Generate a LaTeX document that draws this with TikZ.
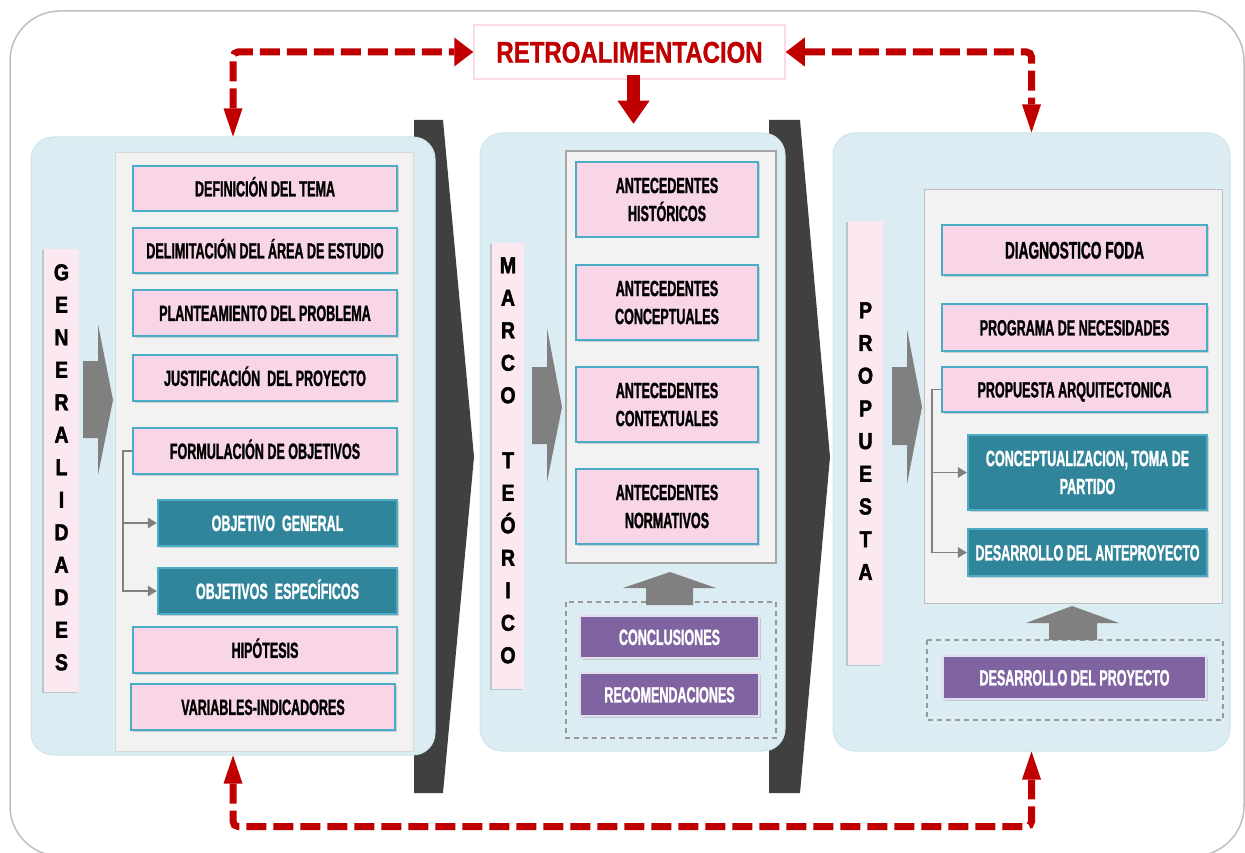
\documentclass[tikz,border=0pt]{standalone}
\usepackage{fontspec}
\newfontfamily\nfont[FakeStretch=0.57,FakeBold=1.2]{Liberation Sans Bold}
\newfontfamily\rfont[FakeStretch=0.8,FakeBold=1]{Liberation Sans Bold}
\newfontfamily\vfont[FakeStretch=0.85,FakeBold=2]{Liberation Sans Bold}
\usetikzlibrary{arrows.meta,shadows}
\definecolor{outerc}{RGB}{191,191,191}
\definecolor{panelc}{RGB}{219,236,242}
\definecolor{panelb}{RGB}{208,228,236}
\definecolor{innerc}{RGB}{242,242,242}
\definecolor{pinkc}{RGB}{248,214,231}
\definecolor{bordc}{RGB}{75,172,198}
\definecolor{tealc}{RGB}{49,133,155}
\definecolor{purpc}{RGB}{128,100,162}
\definecolor{purpb}{RGB}{226,222,236}
\definecolor{stripc}{RGB}{252,232,241}
\definecolor{redc}{RGB}{192,0,0}
\definecolor{darkc}{RGB}{64,64,64}
\definecolor{grayc}{RGB}{128,128,128}
\definecolor{retrob}{RGB}{250,218,232}
\tikzset{
  vtip/.tip={Triangle[length=28pt,width=19pt,line width=0pt]},
  htip/.tip={Triangle[length=19pt,width=29pt,line width=0pt]}
}
\begin{document}
\begin{tikzpicture}[x=1pt,y=-1pt,
  panel/.style={draw=panelb, line width=1pt, fill=panelc, rounded corners=22pt, inner sep=0pt},
  box/.style={line width=2.5pt, draw=bordc, inner sep=0pt, align=center,
    font=\nfont\fontsize{22}{28}\selectfont,
    drop shadow={opacity=0.3, shadow xshift=1.5pt, shadow yshift=-1.5pt}},
  one/.style={text height=15.8pt, text depth=0pt},
  pinkbox/.style={box, fill=pinkc, text=black},
  tealbox/.style={box, fill=tealc, text=white},
  purplebox/.style={box, draw=purpb, line width=2pt, fill=purpc, text=white},
  strip/.style={fill=stripc, inner sep=0pt, drop shadow={opacity=0.35, shadow xshift=-2pt, shadow yshift=-1pt}},
  vlet/.style={font=\vfont\fontsize{23}{23}\selectfont, text height=16.5pt, text depth=0pt, inner sep=0pt},
  conn/.style={draw=grayc, line width=1.5pt, -{Triangle[length=9pt,width=11pt,line width=0pt]}},
  redl/.style={draw=redc, line width=7pt, dash pattern=on 20pt off 7pt, rounded corners=5pt},
  dbox/.style={draw=grayc!80, line width=1.3pt, dash pattern=on 5pt off 4pt}
]
\useasboundingbox (0,0) rectangle (1245,853);
% outer frame
\draw[outerc, line width=1.5pt, rounded corners=50pt] (10,11) rectangle (1244,856);
% dark chevrons
\fill[darkc] (414,120) -- (443,120) -- (474,457) -- (443,793) -- (414,793) -- cycle;
\fill[darkc] (769,120) -- (800,120) -- (830,457) -- (800,793) -- (769,793) -- cycle;
% panels
\node[panel, minimum width=404pt, minimum height=618pt] (p1) at (233,446) {};
\node[panel, minimum width=305pt, minimum height=618pt] (p2) at (632.5,442) {};
\node[panel, minimum width=397pt, minimum height=618pt] (p3) at (1031.5,442) {};
% inner boxes
\filldraw[fill=innerc, draw=black!15, line width=1pt] (115,153) rectangle (413,751);
\filldraw[fill=innerc, draw=black!35, line width=1.5pt] (566,151) rectangle (776,563);
\filldraw[fill=innerc, draw=black!25, line width=1pt] (924,190) rectangle (1222,603);
% dashed groups
\draw[dbox] (566,602) rectangle (776,738);
\draw[dbox] (927,640) rectangle (1223,720);
% vertical strips
\node[strip, minimum width=35pt, minimum height=443pt] (s1) at (61.5,470.5) {};
\node[strip, minimum width=32pt, minimum height=446pt] (s2) at (508,466) {};
\node[strip, minimum width=35pt, minimum height=444pt] (s3) at (865.5,443) {};
\foreach \l [count=\i from 0] in {G,E,N,E,R,A,L,I,D,A,D,E,S}
  \node[vlet] (ga\i) at (61.5,{272+32.5*\i}) {\l};
\foreach \l [count=\i from 0] in {M,A,R,C,O,{},T,E,Ó,R,I,C,O}
  \node[vlet] (mt\i) at (508,{265+32.5*\i}) {\l};
\foreach \l [count=\i from 0] in {P,R,O,P,U,E,S,T,A}
  \node[vlet] (pr\i) at (865.5,{310+32.7*\i}) {\l};
% gray right arrows
\fill[grayc] (83,361) -- (98,361) -- (98,324) -- (113,400) -- (98,475) -- (98,438) -- (83,438) -- cycle;
\fill[grayc] (532,367) -- (547,367) -- (547,328) -- (562,407) -- (547,482) -- (547,444) -- (532,444) -- cycle;
\fill[grayc] (892,367) -- (907,367) -- (907,329) -- (922,407) -- (907,484) -- (907,445) -- (892,445) -- cycle;
% gray up arrows
\fill[grayc] (646,605) -- (646,588) -- (623,588) -- (670,572) -- (716,588) -- (693,588) -- (693,605) -- cycle;
\fill[grayc] (1049,640) -- (1049,623) -- (1026,623) -- (1072,606) -- (1119,623) -- (1097,623) -- (1097,640) -- cycle;
% panel 1 boxes
\node[pinkbox, one, minimum width=264pt, minimum height=45pt] (def) at (265,188.5) {DEFINICIÓN DEL TEMA};
\node[pinkbox, one, minimum width=264pt, minimum height=45pt] (del) at (265,250.5) {DELIMITACIÓN DEL ÁREA DE ESTUDIO};
\node[pinkbox, one, minimum width=264pt, minimum height=46pt] (pla) at (265,313) {PLANTEAMIENTO DEL PROBLEMA};
\node[pinkbox, one, minimum width=264pt, minimum height=46pt] (jus) at (265,378) {JUSTIFICACIÓN \ DEL PROYECTO};
\node[pinkbox, one, minimum width=264pt, minimum height=46pt] (form) at (265,451) {FORMULACIÓN DE OBJETIVOS};
\node[tealbox, one, minimum width=239pt, minimum height=46pt] (ogen) at (277.5,523) {OBJETIVO \ GENERAL};
\node[tealbox, one, minimum width=239pt, minimum height=46pt] (oesp) at (277.5,591) {OBJETIVOS \ ESPECÍFICOS};
\node[pinkbox, one, minimum width=264pt, minimum height=46pt] (hip) at (265,650) {HIPÓTESIS};
\node[pinkbox, one, minimum width=264pt, minimum height=46pt] (var) at (263,707) {VARIABLES-INDICADORES};
\draw[conn] (form.west) -- ++(-9,0) |- (ogen.west);
\draw[conn] (form.west) -- ++(-9,0) |- (oesp.west);
% panel 2 boxes
\node[pinkbox, minimum width=182pt, minimum height=75pt] (hist) at (667,199.5) {ANTECEDENTES\\HISTÓRICOS};
\node[pinkbox, minimum width=182pt, minimum height=75pt] (conc) at (667,302.5) {ANTECEDENTES\\CONCEPTUALES};
\node[pinkbox, minimum width=182pt, minimum height=75pt] (cont) at (667,404.5) {ANTECEDENTES\\CONTEXTUALES};
\node[pinkbox, minimum width=182pt, minimum height=75pt] (norm) at (667,506.5) {ANTECEDENTES\\NORMATIVOS};
\node[purplebox, one, minimum width=179pt, minimum height=42pt] (concl) at (669.5,637) {CONCLUSIONES};
\node[purplebox, one, minimum width=179pt, minimum height=43pt] (recom) at (669.5,694.5) {RECOMENDACIONES};
% panel 3 boxes
\node[pinkbox, one, minimum width=265pt, minimum height=50pt, font=\nfont\fontsize{24}{28}\selectfont, text height=17.2pt] (foda) at (1074.5,250) {DIAGNOSTICO FODA};
\node[pinkbox, one, minimum width=265pt, minimum height=47pt] (prog) at (1074.5,327.5) {PROGRAMA DE NECESIDADES};
\node[pinkbox, one, minimum width=265pt, minimum height=45pt] (parq) at (1074.5,389.5) {PROPUESTA ARQUITECTONICA};
\node[tealbox, minimum width=239pt, minimum height=75pt] (concept) at (1087.5,472.5) {CONCEPTUALIZACION, TOMA DE\\PARTIDO};
\node[tealbox, one, minimum width=239pt, minimum height=47pt] (desante) at (1087.5,552.5) {DESARROLLO DEL ANTEPROYECTO};
\node[purplebox, one, minimum width=263pt, minimum height=43pt] (despro) at (1074.5,677.5) {DESARROLLO DEL PROYECTO};
\draw[conn] (parq.west) -- ++(-9,0) |- (concept.west);
\draw[conn] (parq.west) -- ++(-9,0) |- (desante.west);
% retroalimentacion
\node[draw=retrob, line width=1.5pt, fill=white, minimum width=311pt, minimum height=54pt, inner sep=0pt,
  text=redc, font=\rfont\fontsize{30}{30}\selectfont, text height=21.5pt, text depth=0pt] (retro) at (629.5,52) {RETROALIMENTACION};
\draw[redc, line width=13pt, -{Triangle[length=23pt,width=32pt,line width=0pt]}] ([xshift=4pt,yshift=5pt]retro.south) -- ++(0,49);
% red dashed feedback loops
\draw[redl, {vtip}-{htip}] (p1.north) |- (retro.west);
\draw[redl, {htip}-{vtip}] (retro.east) -| (p3.north);
\draw[redl, {vtip}-{vtip}] (p1.south) -- ++(0,71) -| (p3.south);
\end{tikzpicture}
\end{document}
